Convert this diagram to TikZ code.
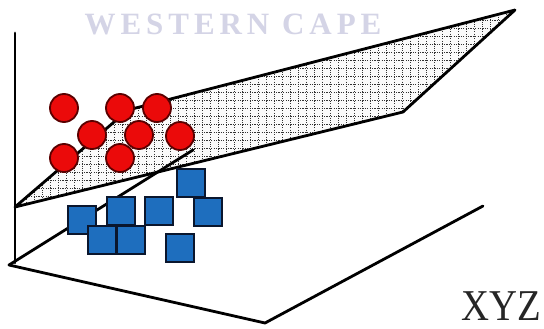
\documentclass[tikz,border=0pt]{standalone}
\usepackage{fontspec}
\setmainfont{Liberation Serif}
\begin{document}
\begin{tikzpicture}[x=1pt,y=-1pt,
  edge/.style={line width=2.8pt,line join=round,line cap=round},
  gridline/.style={line width=0.8pt,draw=black!80,dash pattern=on 1.1pt off 1.3pt},
  dot/.style={circle,draw={rgb,255:red,90;green,0;blue,0},line width=1.8pt,fill={rgb,255:red,235;green,10;blue,10},minimum size=28pt,inner sep=0pt},
  box/.style={rectangle,draw={rgb,255:red,10;green,22;blue,45},line width=2.2pt,fill={rgb,255:red,30;green,110;blue,190},minimum size=27.5pt,inner sep=0pt},
  mark label/.style={inner sep=0pt}]
\useasboundingbox (0,0) rectangle (544,329);
\fill[white] (0,0) rectangle (544,329);
% watermark
\node[mark label,text={rgb,255:red,212;green,212;blue,230},font={\fontsize{31}{31}\selectfont\bfseries\addfontfeature{LetterSpace=16}}] (wm) at (233,24) {WESTERN CAPE};
% plane corners
\coordinate (A) at (15,207);
\coordinate (D) at (128,110);
\coordinate (C) at (515,10);
\coordinate (B) at (403,112);
% axes / bottom plane
\coordinate (top) at (15,33);
\coordinate (O) at (9,265);
\coordinate (bot) at (15,263);
\coordinate (F) at (265,323);
\coordinate (R) at (483,206);
\coordinate (K) at (193,150);
% hatched plane
\fill[black!2] (A) -- (D) -- (C) -- (B) -- cycle;
\begin{scope}
\clip (A) -- (D) -- (C) -- (B) -- cycle;
\foreach \gx in {2,10,...,520} \draw[gridline] (\gx,0) -- (\gx,220);
\foreach \gy in {4,12,...,220} \draw[gridline] (0,\gy) -- (520,\gy);
\end{scope}
\draw[edge] (top) -- (bot);
\draw[edge] (O) -- (F) -- (R);
\draw[edge] (O) -- (K);
\draw[edge] (A) -- (D) -- (C) -- (B) -- cycle;
% squares
\node[box] (s1) at (82,220) {};
\node[box] (s2) at (121,211) {};
\node[box] (s3) at (159,211) {};
\node[box] (s4) at (191,183) {};
\node[box] (s5) at (208,212) {};
\node[box] (s6) at (102,240) {};
\node[box] (s7) at (131,240) {};
\node[box] (s8) at (180,248) {};
% circles
\node[dot] (c1) at (64,108) {};
\node[dot] (c2) at (120,108) {};
\node[dot] (c3) at (157,108) {};
\node[dot] (c4) at (92,135) {};
\node[dot] (c5) at (139,135) {};
\node[dot] (c6) at (180,136) {};
\node[dot] (c7) at (64,158) {};
\node[dot] (c8) at (120,158) {};
% label
\node[mark label,anchor=base west,text=black!85,font={\fontsize{44}{44}\selectfont},xscale=0.88] (xyz) at (461,320) {XYZ};
\end{tikzpicture}
\end{document}
